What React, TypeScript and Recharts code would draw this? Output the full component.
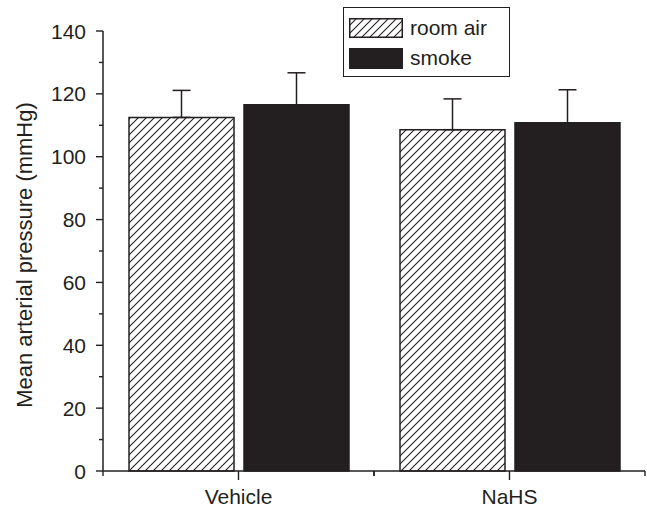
import React from 'react';
import {
  BarChart,
  Bar,
  XAxis,
  YAxis,
  ErrorBar,
  Legend,
} from 'recharts';

// values (mmHg)
const categories = ['Vehicle', 'NaHS'];
const roomAir = [112.5, 108.6];
const smoke = [116.5, 110.8];
const roomAirErr = [8.6, 9.8];
const smokeErr = [10.2, 10.5];
const yTicks = [0, 10, 20, 30, 40, 50, 60, 70, 80, 90, 100, 110, 120, 130, 140];

const INK = '#231f20';
const FONT = '"Liberation Sans", Arial, sans-serif';
const CHART_W = 647;
const CHART_H = 512;
const MARGIN = { top: 31, right: 2, bottom: 11, left: 33 };
const Y_AXIS_W = 70;
const Y_TICK_SIZE = 7;
const Y_TICK_MARGIN = 10;
const X_TICK_SIZE = 9;
const X_TICK_MARGIN = 9;
const HALF_BAND = (CHART_W - MARGIN.left - MARGIN.right - Y_AXIS_W) / categories.length / 2;

const data = categories.map((name, i) => ({
  name,
  roomAir: roomAir[i],
  smoke: smoke[i],
  roomAirErr: [0, roomAirErr[i]],
  smokeErr: [0, smokeErr[i]],
}));

function HatchDef({ id }: { id: string }) {
  return (
    <pattern id={id} patternUnits="userSpaceOnUse" width={8} height={8}>
      <rect width={8} height={8} fill="#fff" />
      <path d="M-2,2 l4,-4 M0,8 l8,-8 M6,10 l4,-4" stroke={INK} strokeWidth={1.1} />
    </pattern>
  );
}

// y ticks: labels on multiples of 20, short minor ticks between
const YTick = ({ x, y, payload }: any) => {
  const major = payload.value % 20 === 0;
  const end = x + Y_TICK_MARGIN + Y_TICK_SIZE;
  return (
    <g>
      <line x1={major ? end - Y_TICK_SIZE : end - 4} x2={end} y1={y} y2={y} stroke={INK} strokeWidth={1.4} />
      {major && (
        <text x={x} y={y} dy="0.36em" textAnchor="end" fontSize={21} fill={INK} fontFamily={FONT}>
          {payload.value}
        </text>
      )}
    </g>
  );
};

// x ticks: long tick at the category centre, short ticks at the band edges
const XTick = ({ x, y, payload }: any) => {
  const axisY = y - X_TICK_SIZE - X_TICK_MARGIN;
  return (
    <g>
      <line x1={x} x2={x} y1={axisY} y2={axisY + X_TICK_SIZE} stroke={INK} strokeWidth={1.4} />
      <line x1={x - HALF_BAND} x2={x - HALF_BAND} y1={axisY} y2={axisY + 5} stroke={INK} strokeWidth={1.4} />
      <line x1={x + HALF_BAND} x2={x + HALF_BAND} y1={axisY} y2={axisY + 5} stroke={INK} strokeWidth={1.4} />
      <text x={x} y={y} dy="0.71em" textAnchor="middle" fontSize={21} fill={INK} fontFamily={FONT}>
        {payload.value}
      </text>
    </g>
  );
};

const YLabel = ({ viewBox }: any) => {
  const cx = 24;
  const cy = viewBox.y + viewBox.height / 2 + 4;
  return (
    <text
      x={cx}
      y={cy}
      transform={`rotate(-90, ${cx}, ${cy})`}
      textAnchor="middle"
      dominantBaseline="central"
      fontSize={22}
      fill={INK}
      fontFamily={FONT}
    >
      Mean arterial pressure (mmHg)
    </text>
  );
};

const LegendBox = () => (
  <div
    style={{
      width: 167,
      height: 70,
      boxSizing: 'border-box',
      border: `1.5px solid ${INK}`,
      background: '#fff',
      paddingTop: 8,
      paddingLeft: 5,
      fontFamily: FONT,
      fontSize: 21,
      color: INK,
    }}
  >
    <div style={{ display: 'flex', alignItems: 'center', height: 24 }}>
      <svg width={54} height={20} style={{ marginRight: 7 }}>
        <defs>
          <HatchDef id="hatchLegend" />
        </defs>
        <rect x={0.75} y={0.75} width={52.5} height={18.5} fill="url(#hatchLegend)" stroke={INK} strokeWidth={1.5} />
      </svg>
      <span>room air</span>
    </div>
    <div style={{ display: 'flex', alignItems: 'center', height: 24, marginTop: 6 }}>
      <svg width={54} height={21} style={{ marginRight: 7 }}>
        <rect x={0} y={0} width={54} height={21} fill={INK} />
      </svg>
      <span>smoke</span>
    </div>
  </div>
);

export default function App() {
  return (
    <div style={{ position: 'absolute', left: 0, top: 0, background: '#fff' }}>
      <BarChart
        width={CHART_W}
        height={CHART_H}
        data={data}
        margin={MARGIN}
        barCategoryGap={26}
        barGap={10}
      >
        <defs>
          <HatchDef id="hatchBar" />
        </defs>
        <XAxis
          dataKey="name"
          tickSize={X_TICK_SIZE}
          tickMargin={X_TICK_MARGIN}
          tickLine={false}
          tick={<XTick />}
          axisLine={{ stroke: INK, strokeWidth: 1.5 }}
          height={30}
        />
        <YAxis
          width={Y_AXIS_W}
          domain={[0, 140]}
          ticks={yTicks}
          interval={0}
          tickSize={Y_TICK_SIZE}
          tickMargin={Y_TICK_MARGIN}
          tickLine={false}
          tick={<YTick />}
          axisLine={{ stroke: INK, strokeWidth: 1.5 }}
          label={<YLabel />}
        />
        <Legend
          layout="horizontal"
          verticalAlign="middle"
          align="center"
          content={<LegendBox />}
          wrapperStyle={{ left: 343, top: 7, width: 167, height: 70 }}
        />
        <Bar
          dataKey="roomAir"
          name="room air"
          fill="url(#hatchBar)"
          stroke={INK}
          strokeWidth={1.5}
          isAnimationActive={false}
        >
          <ErrorBar dataKey="roomAirErr" width={9} stroke={INK} strokeWidth={1.5} direction="y" />
        </Bar>
        <Bar
          dataKey="smoke"
          name="smoke"
          fill={INK}
          stroke={INK}
          strokeWidth={1.5}
          isAnimationActive={false}
        >
          <ErrorBar dataKey="smokeErr" width={9} stroke={INK} strokeWidth={1.5} direction="y" />
        </Bar>
      </BarChart>
    </div>
  );
}
